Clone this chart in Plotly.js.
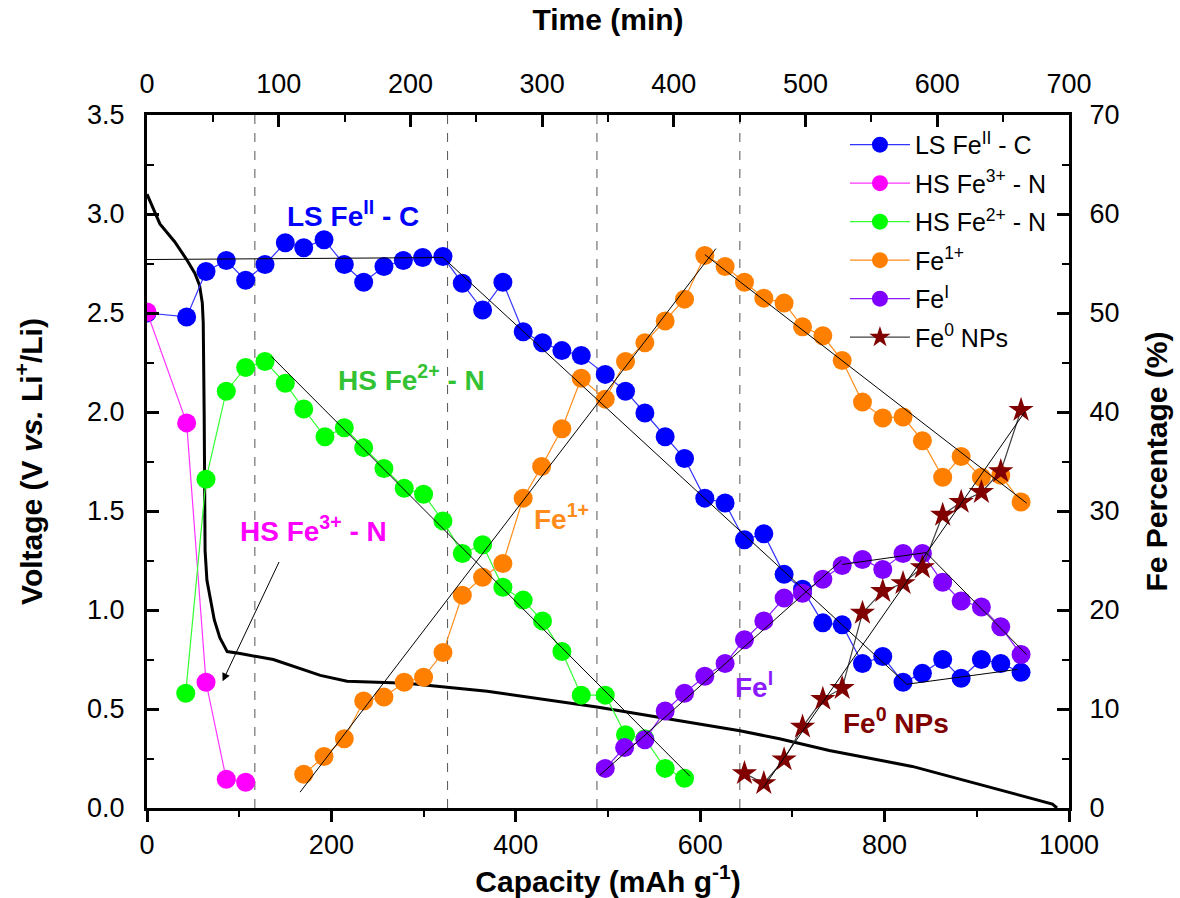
<!DOCTYPE html>
<html>
<head>
<meta charset="utf-8">
<script src="https://cdn.plot.ly/plotly-3.0.1.min.js"></script>
<style>html,body{margin:0;padding:0;background:#fff}#chart{width:1180px;height:898px}</style>
</head>
<body>
<div id="chart"></div>
<script>
// ---- Discharge curve (left axis, V) ----
const curveCap = [0, 14, 30, 43, 52, 57, 60, 61, 62, 63, 65, 68, 73, 79, 87, 101, 137, 188, 217, 282, 369, 488, 643, 686, 740, 830, 982, 987];
const curveV   = [3.10, 2.95, 2.86, 2.77, 2.70, 2.64, 2.55, 2.45, 2.0, 1.3, 1.15, 1.07, 0.95, 0.86, 0.79, 0.78, 0.75, 0.67, 0.64, 0.63, 0.59, 0.51, 0.39, 0.35, 0.29, 0.21, 0.02, 0.0];

// ---- Fe species percentages (right axis, %) ----
const capLS = [0, 43, 64, 86, 107, 128, 150, 170, 192, 214, 235, 257, 278, 299, 321, 342, 364, 386, 408, 429, 450, 471, 497, 519, 540, 562, 583, 605, 627, 648, 669, 691, 711, 733, 754, 776, 798, 820, 841, 863, 883, 905, 926, 948];
const pctLS = [50.0, 49.6, 54.2, 55.3, 53.3, 54.9, 57.1, 56.6, 57.4, 54.9, 53.1, 54.7, 55.3, 55.6, 55.7, 53.0, 50.3, 53.1, 48.1, 47.0, 46.2, 45.7, 43.8, 42.1, 39.9, 37.5, 35.3, 31.3, 30.8, 27.1, 27.7, 23.6, 22.1, 18.7, 18.5, 14.6, 15.3, 12.7, 13.6, 15.0, 13.1, 15.0, 14.6, 13.7];

const capHS3 = [0, 43, 64, 86, 107];
const pctHS3 = [50.1, 38.9, 12.7, 2.9, 2.6];

const capHS2 = [42, 64, 86, 107, 128, 150, 170, 193, 214, 235, 257, 279, 300, 321, 342, 364, 386, 408, 429, 450, 471, 497, 519, 540, 562, 583];
const pctHS2 = [11.6, 33.2, 42.1, 44.5, 45.1, 42.9, 40.3, 37.5, 38.4, 36.4, 34.3, 32.3, 31.7, 29.0, 25.7, 26.6, 22.3, 21.0, 18.9, 15.8, 11.4, 11.4, 7.4, 7.0, 4.0, 3.0];

const capFe1 = [170, 192, 214, 235, 257, 279, 300, 321, 342, 364, 386, 408, 428, 450, 471, 497, 519, 540, 562, 583, 605, 627, 648, 669, 691, 711, 733, 754, 776, 798, 820, 841, 863, 883, 905, 926, 948];
const pctFe1 = [3.4, 5.2, 7.0, 10.8, 11.2, 12.7, 13.2, 15.7, 21.5, 23.3, 24.7, 31.3, 34.5, 38.3, 43.4, 41.3, 45.1, 47.0, 49.2, 51.4, 55.8, 54.7, 53.1, 51.5, 51.0, 48.6, 47.7, 45.2, 41.0, 39.4, 39.5, 37.1, 33.4, 35.5, 33.4, 33.6, 30.9];

const capFeI = [497, 518, 540, 562, 583, 605, 627, 648, 669, 691, 711, 733, 754, 776, 798, 820, 841, 863, 883, 905, 926, 948];
const pctFeI = [4.0, 6.1, 6.9, 9.8, 11.6, 13.3, 14.6, 17.0, 18.9, 21.2, 21.7, 23.1, 24.5, 25.1, 24.1, 25.7, 25.7, 22.8, 20.9, 20.3, 18.3, 15.5];

const capFe0 = [648, 669, 691, 711, 733, 754, 776, 798, 820, 841, 863, 883, 905, 926, 948];
const pctFe0 = [3.5, 2.5, 4.9, 8.2, 11.0, 12.1, 19.7, 21.9, 22.7, 24.3, 29.6, 30.9, 31.9, 34.0, 40.2];

// ---- Linear guide lines (right axis, %) ----
const fitLSCap = [0, 321, 824, 944];
const fitLSPct = [55.4, 55.6, 12.5, 14.0];
const fitHS2Cap = [135, 589];
const fitHS2Pct = [45.6, 3.2];
const fitFe1Cap = [166, 617, null, 605, 954];
const fitFe1Pct = [1.6, 56.5, null, 55.9, 30.8];
const fitFeICap = [491, 753, null, 754, 845, 954];
const fitFeIPct = [3.3, 25.0, null, 24.6, 25.8, 15.5];
const fitFe0Cap = [668, 952];
const fitFe0Pct = [2.0, 40.0];

// ---- Phase boundaries (capacity) ----
const boundaries = [117, 326, 488, 643];

// ---- Axis ranges ----
const capRange = [0, 1000];
const timeRange = [0, 700];
const voltRange = [0, 3.5];
const pctRange = [0, 70];

// ---- Labels ----
const legendNames = ['LS Fe<sup>II</sup> - C', 'HS Fe<sup>3+</sup> - N', 'HS Fe<sup>2+</sup> - N', 'Fe<sup>1+</sup>', 'Fe<sup>I</sup>', 'Fe<sup>0</sup> NPs'];
const labelTexts = ['<b>LS Fe<sup>II</sup> - C</b>', '<b>HS Fe<sup>2+</sup> - N</b>', '<b>HS Fe<sup>3+</sup> - N</b>', '<b>Fe<sup>1+</sup></b>', '<b>Fe<sup>I</sup></b>', '<b>Fe<sup>0</sup> NPs</b>'];
const labelCap = [223, 287, 181, 450, 658, 812];
const labelV   = [3.00, 2.17, 1.41, 1.47, 0.62, 0.44];
const labelColors = ['#0000ff', '#33c233', '#ff00ff', '#ff8c1a', '#8c1aff', '#800000'];

const FONT = 'Liberation Sans, Arial, Helvetica, sans-serif';

function series(x, y, name, color, lineColor, symbol, size, grp) {
  return {
    x: x, y: y, name: name, xaxis: 'x', yaxis: 'y2', type: 'scatter', mode: 'lines+markers',
    legendgroup: grp,
    line: {color: lineColor, width: 1.2},
    marker: {color: color, size: size, symbol: symbol, line: {width: 0}},
    hoverinfo: 'x+y'
  };
}
function fit(x, y) {
  return {x: x, y: y, xaxis: 'x', yaxis: 'y2', type: 'scatter', mode: 'lines',
    line: {color: '#000', width: 1}, showlegend: false, connectgaps: false, hoverinfo: 'skip'};
}

const traces = [
  // empty trace so that the top time axis is drawn
  {x: [], y: [], xaxis: 'x2', yaxis: 'y', type: 'scatter', mode: 'lines', showlegend: false, hoverinfo: 'skip'},
  {x: curveCap, y: curveV, xaxis: 'x', yaxis: 'y', type: 'scatter', mode: 'lines',
   line: {color: '#000', width: 3}, showlegend: false, hoverinfo: 'skip'},
  series(capLS, pctLS, legendNames[0], '#0000ff', '#3333ff', 'circle', 19, 'g1'),
  series(capHS3, pctHS3, legendNames[1], '#ff00ff', '#ff33ff', 'circle', 19, 'g2'),
  series(capHS2, pctHS2, legendNames[2], '#00ff00', '#33ff33', 'circle', 19, 'g3'),
  series(capFe1, pctFe1, legendNames[3], '#ff8000', '#ff8c1a', 'circle', 19, 'g4'),
  series(capFeI, pctFeI, legendNames[4], '#8000ff', '#8c1aff', 'circle', 19, 'g5'),
  series(capFe0, pctFe0, legendNames[5], '#800000', '#404040', 'star', 19, 'g6'),
  fit(fitLSCap, fitLSPct), fit(fitHS2Cap, fitHS2Pct), fit(fitFe1Cap, fitFe1Pct),
  fit(fitFeICap, fitFeIPct), fit(fitFe0Cap, fitFe0Pct)
];

const shapes = boundaries.map(b => ({
  type: 'line', xref: 'x', yref: 'paper', x0: b, x1: b, y0: 0, y1: 1,
  line: {color: '#555', width: 1, dash: 'dash'}, layer: 'below'
}));

const annotations = labelTexts.map((t, i) => ({
  text: t, x: labelCap[i], y: labelV[i], xref: 'x', yref: 'y', showarrow: false,
  font: {family: FONT, size: 28, color: labelColors[i]}
}));
annotations.push({
  text: '', xref: 'x', yref: 'y', axref: 'x', ayref: 'y',
  x: 82, y: 0.64, ax: 144, ay: 1.25, showarrow: true,
  arrowhead: 2, arrowsize: 1.6, arrowwidth: 1, arrowcolor: '#000'
});

const axCommon = {
  showgrid: false, zeroline: false, showline: true, linecolor: '#000', linewidth: 3,
  tickcolor: '#000', tickwidth: 3, tickfont: {family: FONT, size: 27, color: '#000'}
};

const layout = {
  width: 1180, height: 898,
  margin: {l: 147, r: 111, t: 115, b: 90, pad: 0},
  paper_bgcolor: '#fff', plot_bgcolor: '#fff',
  font: {family: FONT, color: '#000'},
  showlegend: true,
  legend: {x: 0.757, y: 0.99, xanchor: 'left', yanchor: 'top', bgcolor: 'rgba(0,0,0,0)',
           borderwidth: 0, itemwidth: 60, font: {family: FONT, size: 25, color: '#000'}, tracegroupgap: 3},
  xaxis: Object.assign({}, axCommon, {
    range: capRange, tick0: 0, dtick: 200, ticks: 'outside', ticklen: 11,
    minor: {dtick: 100, ticks: 'outside', ticklen: 6, tickwidth: 2, tickcolor: '#000'},
    title: {text: '<b>Capacity (mAh g<sup>-1</sup>)</b>', font: {family: FONT, size: 30, color: '#000'}, standoff: 12},
    anchor: 'y'
  }),
  xaxis2: Object.assign({}, axCommon, {
    range: timeRange, tick0: 0, dtick: 100, ticks: 'inside', ticklen: 12, overlaying: 'x', side: 'top', anchor: 'y',
    ticklabelstandoff: 8,
    minor: {dtick: 50, ticks: 'inside', ticklen: 7, tickwidth: 2, tickcolor: '#000'},
    title: {text: '<b>Time (min)</b>', font: {family: FONT, size: 30, color: '#000'}, standoff: 30}
  }),
  yaxis: Object.assign({}, axCommon, {
    range: voltRange, tick0: 0, dtick: 0.5, tickformat: '.1f', ticks: 'inside', ticklen: 12,
    ticklabelstandoff: 14,
    minor: {dtick: 0.25, ticks: 'inside', ticklen: 7, tickwidth: 2, tickcolor: '#000'},
    title: {text: '<b>Voltage (V <i>vs.</i> Li<sup>+</sup>/Li)</b>', font: {family: FONT, size: 30, color: '#000'}, standoff: 36},
    anchor: 'x'
  }),
  yaxis2: Object.assign({}, axCommon, {
    range: pctRange, tick0: 0, dtick: 10, ticks: 'inside', ticklen: 12, overlaying: 'y', side: 'right', anchor: 'x',
    ticklabelstandoff: 12,
    minor: {dtick: 5, ticks: 'inside', ticklen: 7, tickwidth: 2, tickcolor: '#000'},
    title: {text: '<b>Fe Percentage (%)</b>', font: {family: FONT, size: 30, color: '#000'}, standoff: 28}
  }),
  shapes: shapes,
  annotations: annotations
};

Plotly.newPlot('chart', traces, layout, {displayModeBar: false, staticPlot: true});
</script>
</body>
</html>
